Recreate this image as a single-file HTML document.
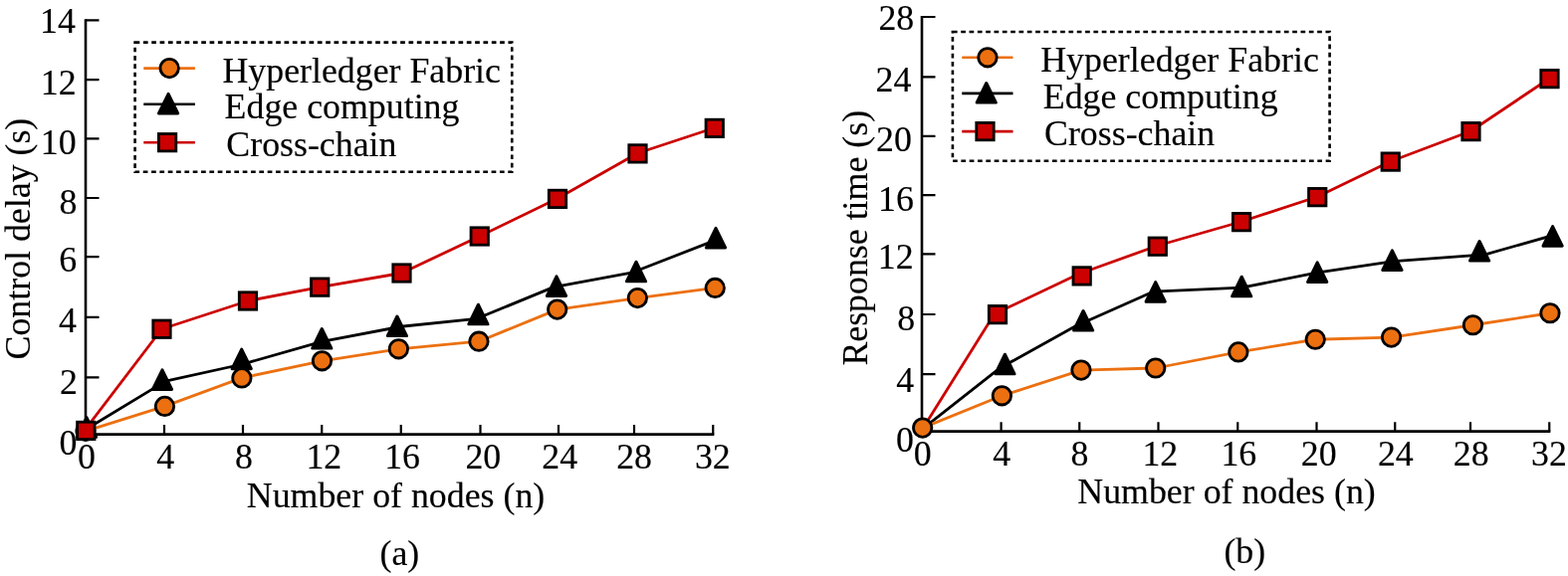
<!DOCTYPE html>
<html lang="en">
<head>
<meta charset="utf-8">
<title>Control delay and response time versus number of nodes</title>
<style>
html,body{margin:0;padding:0;background:#fff;}
body{width:1575px;height:579px;overflow:hidden;}
svg{display:block;}
svg text{font-family:"Liberation Serif","Times New Roman",Times,serif;font-size:35.85px;fill:#000;stroke:#000;stroke-width:0.15px;}
</style>
</head>
<body>
<svg width="1575" height="579" viewBox="0 0 1575 579">
<rect width="1575" height="579" fill="#fff"/>
<g id="chart-a">
<path d="M86,19.2 V437.9 M84.7,436.6 H717.35" fill="none" stroke="#000" stroke-width="2.6"/>
<path d="M86,20.3 H99.5 M86,80.2 H99.5 M86,139.3 H99.5 M86,199 H99.5 M86,258.2 H99.5 M86,318.8 H99.5 M86,379.4 H99.5 M165,436.6 V427 M244,436.6 V427 M323.25,436.6 V427 M402.75,436.6 V427 M482.5,436.6 V427 M561,436.6 V427 M637,436.6 V427 M716.25,436.6 V427" fill="none" stroke="#000" stroke-width="2.2"/>
<text x="40.1" y="33.2">14</text>
<text x="40.73" y="95">12</text>
<text x="40.77" y="155">10</text>
<text x="59.47" y="215.1">8</text>
<text x="59.22" y="272.7">6</text>
<text x="58.9" y="334">4</text>
<text x="60.05" y="396.2">2</text>
<text x="59.47" y="457.4">0</text>
<text x="77.88" y="470.5">0</text>
<text x="157.2" y="470.5">4</text>
<text x="235.93" y="470.5">8</text>
<text x="307.38" y="470.5">12</text>
<text x="386.2" y="470.5">16</text>
<text x="467.4" y="470.5">20</text>
<text x="544.33" y="470.5">24</text>
<text x="619.2" y="470.5">28</text>
<text x="697.88" y="470.5">32</text>
<text x="247.8" y="509.5">Number of nodes (n)</text>
<text transform="translate(30,361.48) rotate(-90)">Control delay (s)</text>
<text x="381.48" y="567.8">(a)</text>
<polyline points="86,431.8 166.3,383.1 244,366 323.25,343.3 402.75,328.25 479,320.3 556,288.65 634.3,274.2 716.25,242.4" fill="none" stroke="#000000" stroke-width="2.8" stroke-linejoin="round"/>
<polyline points="86,433.3 165.5,408.4 242.9,379.9 323.5,362.8 400.4,350.8 481,343.2 559.75,311.1 640.4,299.6 718.25,289.45" fill="none" stroke="#EC7010" stroke-width="2.8" stroke-linejoin="round"/>
<polyline points="86.25,430.8 162.5,330.75 249,302.5 321.25,288.65 403.5,274.5 481.75,237.5 560,199.5 640.5,154 717.75,128.5" fill="none" stroke="#CC0000" stroke-width="2.8" stroke-linejoin="round"/>
<polygon points="87,419.7 96.6,439.3 77.4,439.3" fill="#000000" stroke="#000000" stroke-width="3" stroke-linejoin="round"/><polygon points="163,371.9 172.6,391.5 153.4,391.5" fill="#000000" stroke="#000000" stroke-width="3" stroke-linejoin="round"/><polygon points="242.7,351.15 252.3,370.75 233.1,370.75" fill="#000000" stroke="#000000" stroke-width="3" stroke-linejoin="round"/><polygon points="323.3,330.5 332.9,350.1 313.7,350.1" fill="#000000" stroke="#000000" stroke-width="3" stroke-linejoin="round"/><polygon points="398.9,318 408.5,337.6 389.3,337.6" fill="#000000" stroke="#000000" stroke-width="3" stroke-linejoin="round"/><polygon points="480.4,306.2 490,325.8 470.8,325.8" fill="#000000" stroke="#000000" stroke-width="3" stroke-linejoin="round"/><polygon points="559,277.8 568.6,297.4 549.4,297.4" fill="#000000" stroke="#000000" stroke-width="3" stroke-linejoin="round"/><polygon points="639,263.2 648.6,282.8 629.4,282.8" fill="#000000" stroke="#000000" stroke-width="3" stroke-linejoin="round"/><polygon points="719,229.3 728.6,248.9 709.4,248.9" fill="#000000" stroke="#000000" stroke-width="3" stroke-linejoin="round"/>
<circle cx="86" cy="433.3" r="9.2" fill="#EC7010" stroke="#000000" stroke-width="2.8"/><circle cx="165.5" cy="408.4" r="9.2" fill="#EC7010" stroke="#000000" stroke-width="2.8"/><circle cx="242.9" cy="379.9" r="9.2" fill="#EC7010" stroke="#000000" stroke-width="2.8"/><circle cx="323.5" cy="362.8" r="9.2" fill="#EC7010" stroke="#000000" stroke-width="2.8"/><circle cx="400.4" cy="350.8" r="9.2" fill="#EC7010" stroke="#000000" stroke-width="2.8"/><circle cx="481" cy="343.2" r="9.2" fill="#EC7010" stroke="#000000" stroke-width="2.8"/><circle cx="559.75" cy="311.1" r="9.2" fill="#EC7010" stroke="#000000" stroke-width="2.8"/><circle cx="640.4" cy="299.6" r="9.2" fill="#EC7010" stroke="#000000" stroke-width="2.8"/><circle cx="718.25" cy="289.45" r="9.2" fill="#EC7010" stroke="#000000" stroke-width="2.8"/>
<rect x="77.6" y="424.2" width="17.4" height="17.4" fill="#CC0000" stroke="#000000" stroke-width="2.8"/><rect x="153.8" y="322.05" width="17.4" height="17.4" fill="#CC0000" stroke="#000000" stroke-width="2.8"/><rect x="240.3" y="293.8" width="17.4" height="17.4" fill="#CC0000" stroke="#000000" stroke-width="2.8"/><rect x="312.55" y="279.95" width="17.4" height="17.4" fill="#CC0000" stroke="#000000" stroke-width="2.8"/><rect x="394.8" y="265.8" width="17.4" height="17.4" fill="#CC0000" stroke="#000000" stroke-width="2.8"/><rect x="473.05" y="228.8" width="17.4" height="17.4" fill="#CC0000" stroke="#000000" stroke-width="2.8"/><rect x="551.3" y="191.2" width="17.4" height="17.4" fill="#CC0000" stroke="#000000" stroke-width="2.8"/><rect x="631.8" y="145.7" width="17.4" height="17.4" fill="#CC0000" stroke="#000000" stroke-width="2.8"/><rect x="709.05" y="120.2" width="17.4" height="17.4" fill="#CC0000" stroke="#000000" stroke-width="2.8"/>
<rect x="135.6" y="42.6" width="378.65" height="130.2" fill="#fff" stroke="#000" stroke-width="2.6" stroke-dasharray="4.7 3.630"/>
<line x1="144.3" y1="68.6" x2="195.9" y2="68.6" stroke="#EC7010" stroke-width="2.6"/>
<line x1="144.3" y1="104.75" x2="195.9" y2="104.75" stroke="#000000" stroke-width="2.6"/>
<line x1="144.3" y1="143.2" x2="195.9" y2="143.2" stroke="#CC0000" stroke-width="2.6"/>
<circle cx="170.2" cy="68.6" r="9.2" fill="#EC7010" stroke="#000000" stroke-width="2.8"/>
<polygon points="169.1,94.3 178.7,113.9 159.5,113.9" fill="#000000" stroke="#000000" stroke-width="3" stroke-linejoin="round"/>
<rect x="159.4" y="134.5" width="17.4" height="17.4" fill="#CC0000" stroke="#000000" stroke-width="2.8"/>
<text x="223.45" y="83">Hyperledger Fabric</text>
<text x="225.6" y="119.1">Edge computing</text>
<text x="227.3" y="157">Cross-chain</text>
</g>
<g id="chart-b">
<path d="M926,15.9 V434.9 M924.7,433.6 H1557.35" fill="none" stroke="#000" stroke-width="2.6"/>
<path d="M926,17 H939.5 M926,77.4 H939.5 M926,136.9 H939.5 M926,196.1 H939.5 M926,255.4 H939.5 M926,316 H939.5 M926,376.1 H939.5 M1005.6,433.6 V424.25 M1084.25,433.6 V424.25 M1163.5,433.6 V424.25 M1243.25,433.6 V424.25 M1322.5,433.6 V424.25 M1401.25,433.6 V424.25 M1477,433.6 V424.25 M1556.25,433.6 V424.25" fill="none" stroke="#000" stroke-width="2.2"/>
<text x="882.4" y="29.7">28</text>
<text x="879.62" y="92.3">24</text>
<text x="880" y="152.3">20</text>
<text x="882.1" y="212">16</text>
<text x="881.77" y="269.5">12</text>
<text x="901.17" y="331.5">8</text>
<text x="900.2" y="393.7">4</text>
<text x="900.02" y="453.75">0</text>
<text x="917.73" y="468.1">0</text>
<text x="997.25" y="468.1">4</text>
<text x="1075.62" y="468.1">8</text>
<text x="1147.38" y="468.1">12</text>
<text x="1226.4" y="468.1">16</text>
<text x="1306.75" y="468.1">20</text>
<text x="1383.92" y="468.1">24</text>
<text x="1459.75" y="468.1">28</text>
<text x="1538.12" y="468.1">32</text>
<text x="1082.3" y="506">Number of nodes (n)</text>
<text transform="translate(871,367.62) rotate(-90)">Response time (s)</text>
<text x="1229.38" y="566">(b)</text>
<polyline points="926.75,431 998.9,315.6 1083.3,275.5 1162.5,247 1247.1,222.75 1323.25,197.75 1396.75,162.2 1477.5,131.75 1556.5,78.75" fill="none" stroke="#CC0000" stroke-width="2.8" stroke-linejoin="round"/>
<polyline points="926,431.6 1003.8,370.3 1080,328 1158.2,293.2 1247.1,289.2 1322.5,274.2 1400,262.7 1491.8,255.8 1557,237.4" fill="none" stroke="#000000" stroke-width="2.8" stroke-linejoin="round"/>
<polyline points="926.7,430.1 1006.4,397.8 1086,372.1 1160.75,370 1243.9,353.9 1321.25,341.25 1397.6,339.1 1479.5,326.75 1557,314.75" fill="none" stroke="#EC7010" stroke-width="2.8" stroke-linejoin="round"/>
<rect x="993.3" y="307.45" width="17.4" height="17.4" fill="#CC0000" stroke="#000000" stroke-width="2.8"/><rect x="1078" y="268.7" width="17.4" height="17.4" fill="#CC0000" stroke="#000000" stroke-width="2.8"/><rect x="1154.1" y="239" width="17.4" height="17.4" fill="#CC0000" stroke="#000000" stroke-width="2.8"/><rect x="1238.4" y="214.45" width="17.4" height="17.4" fill="#CC0000" stroke="#000000" stroke-width="2.8"/><rect x="1314.55" y="189.45" width="17.4" height="17.4" fill="#CC0000" stroke="#000000" stroke-width="2.8"/><rect x="1388.05" y="153.9" width="17.4" height="17.4" fill="#CC0000" stroke="#000000" stroke-width="2.8"/><rect x="1468.8" y="123.45" width="17.4" height="17.4" fill="#CC0000" stroke="#000000" stroke-width="2.8"/><rect x="1547.8" y="70.45" width="17.4" height="17.4" fill="#CC0000" stroke="#000000" stroke-width="2.8"/>
<polygon points="1009.4,356.2 1019,375.8 999.8,375.8" fill="#000000" stroke="#000000" stroke-width="3" stroke-linejoin="round"/><polygon points="1088.1,312.5 1097.7,332.1 1078.5,332.1" fill="#000000" stroke="#000000" stroke-width="3" stroke-linejoin="round"/><polygon points="1160.7,283.6 1170.3,303.2 1151.1,303.2" fill="#000000" stroke="#000000" stroke-width="3" stroke-linejoin="round"/><polygon points="1247.2,278.2 1256.8,297.8 1237.6,297.8" fill="#000000" stroke="#000000" stroke-width="3" stroke-linejoin="round"/><polygon points="1323.2,263.9 1332.8,283.5 1313.6,283.5" fill="#000000" stroke="#000000" stroke-width="3" stroke-linejoin="round"/><polygon points="1398.4,251.9 1408,271.5 1388.8,271.5" fill="#000000" stroke="#000000" stroke-width="3" stroke-linejoin="round"/><polygon points="1486.1,242.5 1495.7,262.1 1476.5,262.1" fill="#000000" stroke="#000000" stroke-width="3" stroke-linejoin="round"/><polygon points="1559.6,227.6 1569.2,247.2 1550,247.2" fill="#000000" stroke="#000000" stroke-width="3" stroke-linejoin="round"/>
<circle cx="926.7" cy="430.1" r="9.2" fill="#EC7010" stroke="#000000" stroke-width="2.8"/><circle cx="1006.4" cy="397.8" r="9.2" fill="#EC7010" stroke="#000000" stroke-width="2.8"/><circle cx="1086" cy="372.1" r="9.2" fill="#EC7010" stroke="#000000" stroke-width="2.8"/><circle cx="1160.75" cy="370" r="9.2" fill="#EC7010" stroke="#000000" stroke-width="2.8"/><circle cx="1243.9" cy="353.9" r="9.2" fill="#EC7010" stroke="#000000" stroke-width="2.8"/><circle cx="1321.25" cy="341.25" r="9.2" fill="#EC7010" stroke="#000000" stroke-width="2.8"/><circle cx="1397.6" cy="339.1" r="9.2" fill="#EC7010" stroke="#000000" stroke-width="2.8"/><circle cx="1479.5" cy="326.75" r="9.2" fill="#EC7010" stroke="#000000" stroke-width="2.8"/><circle cx="1557" cy="314.75" r="9.2" fill="#EC7010" stroke="#000000" stroke-width="2.8"/>
<rect x="956.9" y="32" width="378.7" height="129.8" fill="#fff" stroke="#000" stroke-width="2.6" stroke-dasharray="4.7 3.624"/>
<line x1="966.25" y1="57.8" x2="1017.5" y2="57.8" stroke="#EC7010" stroke-width="2.6"/>
<line x1="966.25" y1="93.9" x2="1017.5" y2="93.9" stroke="#000000" stroke-width="2.6"/>
<line x1="966.25" y1="132.1" x2="1017.5" y2="132.1" stroke="#CC0000" stroke-width="2.6"/>
<circle cx="992" cy="57.8" r="9.2" fill="#EC7010" stroke="#000000" stroke-width="2.8"/>
<polygon points="990.75,83.5 1000.35,103.1 981.15,103.1" fill="#000000" stroke="#000000" stroke-width="3" stroke-linejoin="round"/>
<rect x="980.8" y="123.4" width="17.4" height="17.4" fill="#CC0000" stroke="#000000" stroke-width="2.8"/>
<text x="1045.25" y="72.2">Hyperledger Fabric</text>
<text x="1047.75" y="108.9">Edge computing</text>
<text x="1049" y="145.9">Cross-chain</text>
</g>
</svg>
</body>
</html>
